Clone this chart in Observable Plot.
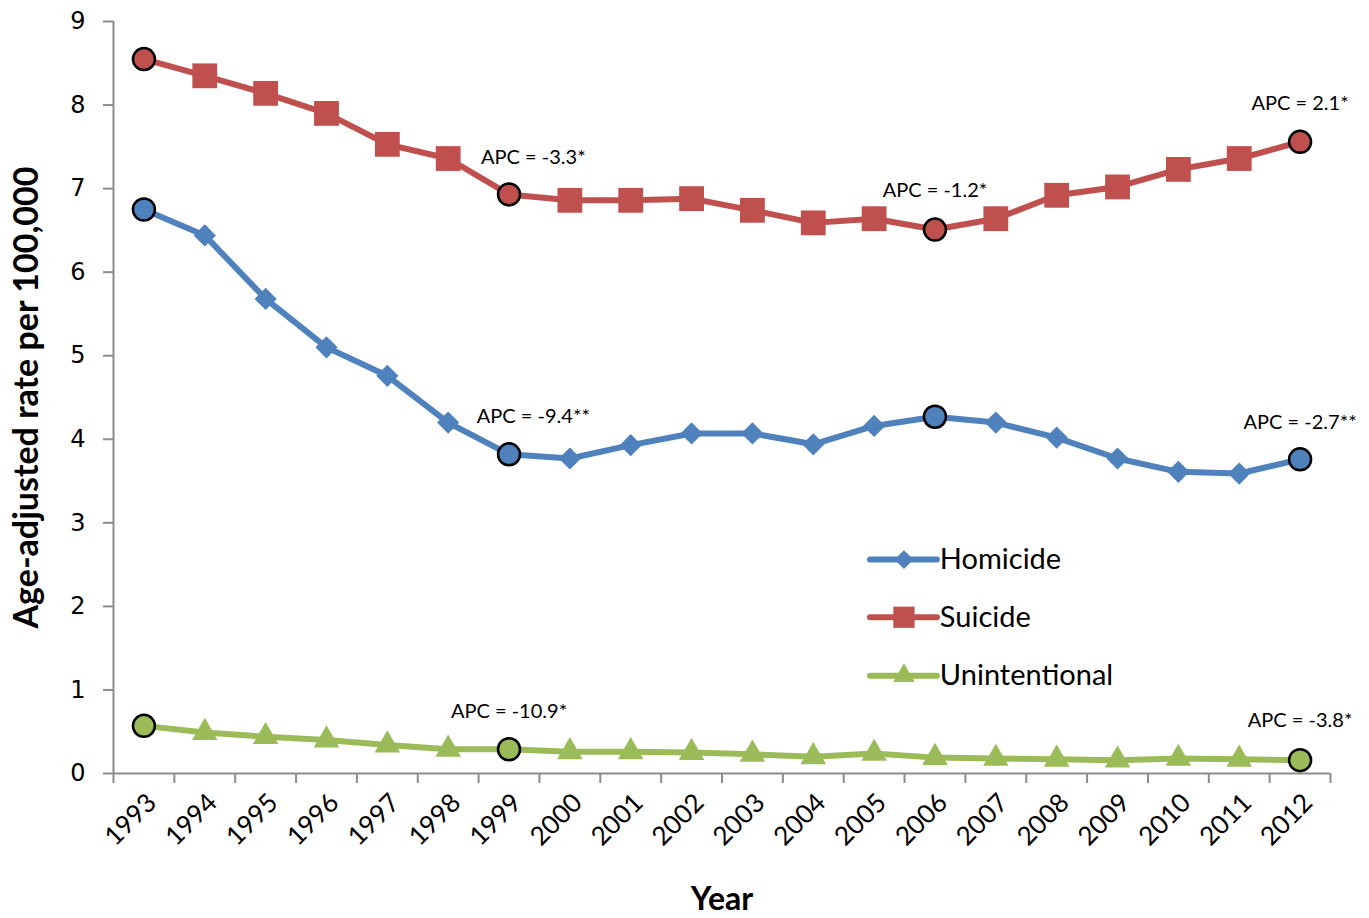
<!DOCTYPE html>
<html>
<head>
<meta charset="utf-8">
<script src="https://cdn.jsdelivr.net/npm/d3@7"></script>
<script src="https://cdn.jsdelivr.net/npm/@observablehq/plot@0.6"></script>
<style>
  html, body { margin: 0; padding: 0; background: #fff; }
</style>
</head>
<body>
<div id="chart"></div>
<script>
// ---- data ----
const years = [1993,1994,1995,1996,1997,1998,1999,2000,2001,2002,2003,2004,2005,2006,2007,2008,2009,2010,2011,2012];
const homicide = [6.75,6.44,5.68,5.10,4.76,4.20,3.82,3.77,3.93,4.07,4.07,3.94,4.16,4.27,4.20,4.02,3.77,3.61,3.59,3.76];
const suicide = [8.55,8.35,8.14,7.90,7.53,7.36,6.93,6.86,6.86,6.88,6.74,6.59,6.64,6.51,6.64,6.92,7.02,7.23,7.36,7.56];
const unintentional = [0.57,0.49,0.44,0.40,0.34,0.29,0.29,0.26,0.26,0.25,0.23,0.20,0.24,0.19,0.18,0.17,0.16,0.18,0.17,0.16];
const seriesNames = ["Homicide", "Suicide", "Unintentional"];
const joinpointYears = {
  Homicide: [1993, 1999, 2006, 2012],
  Suicide: [1993, 1999, 2006, 2012],
  Unintentional: [1993, 1999, 2012]
};
const apcLabels = ["APC = -3.3*", "APC = -1.2*", "APC = 2.1*", "APC = -9.4**", "APC = -2.7**", "APC = -10.9*", "APC = -3.8*"];
const apcX = [1999.4, 2006.0, 2012.0, 1999.4, 2012.0, 1999.0, 2012.0];
const apcY = [7.37, 6.98, 8.02, 4.27, 4.20, 0.74, 0.63];
const yTicks = [0,1,2,3,4,5,6,7,8,9];

// ---- styles ----
const colors = {Homicide: "#4F81BD", Suicide: "#C0504D", Unintentional: "#9BBB59"};
const symbols = {Homicide: "diamond2", Suicide: "square", Unintentional: "triangle"};
const markerR = {Homicide: 10, Suicide: 14, Unintentional: 9.5};
const legendR = {Homicide: 8.5, Suicide: 12, Unintentional: 8};

// ---- tables ----
const valuesBy = {Homicide: homicide, Suicide: suicide, Unintentional: unintentional};
const rows = seriesNames.flatMap(s => years.map((yr, i) => ({series: s, year: yr, value: valuesBy[s][i]})));
const isJoin = d => joinpointYears[d.series].includes(d.year);
const bounds = [...years.map(y => y - 0.5), years[years.length - 1] + 0.5];
const apc = apcLabels.map((t, i) => ({text: t, x: apcX[i], y: apcY[i]}));

// legend layout (frame-relative, expressed in scale units)
const legend = seriesNames.map((s, i) => ({series: s, y: [2.56, 1.87, 1.17][i]}));
const legX1 = 2004.94, legX2 = 2006.04, legXm = 2005.49, legXt = 2006.08;

const marks = [
  Plot.ruleY([0], {stroke: "#8c8c8c", strokeWidth: 2}),
  Plot.ruleX([bounds[0]], {stroke: "#8c8c8c", strokeWidth: 2}),
  Plot.axisY({ticks: yTicks, tickSize: 10, tickPadding: 18, stroke: "#8c8c8c", strokeWidth: 2, fill: "#000",
    fontSize: 24, fontFamily: "DejaVu Sans", label: null, tickFormat: d => String(d)}),
  Plot.axisX({ticks: bounds, tickSize: 10, stroke: "#8c8c8c", strokeWidth: 2, tickFormat: () => "", label: null}),
  Plot.axisX({ticks: years, tickSize: 0, tickPadding: 25, tickRotate: -45, fill: "#000", fontSize: 26,
    fontFamily: "Lato", dx: 8, label: null, tickFormat: d => String(d)}),
  ...seriesNames.map(s => Plot.lineY(rows.filter(d => d.series === s), {
    x: "year", y: "value", stroke: colors[s], strokeWidth: 6, strokeLinejoin: "round", strokeLinecap: "round"})),
  ...seriesNames.map(s => Plot.dot(rows.filter(d => d.series === s && !isJoin(d)), {
    x: "year", y: "value", symbol: () => symbols[s], r: markerR[s], fill: colors[s], stroke: "none"})),
  ...seriesNames.map(s => Plot.dot(rows.filter(d => d.series === s && isJoin(d)), {
    x: "year", y: "value", r: 11, fill: colors[s], stroke: "#000", strokeWidth: 2.5})),
  Plot.text(apc, {x: "x", y: "y", text: "text", fontSize: 20, fontFamily: "Lato", fill: "#000"}),
  // legend
  ...legend.map(l => Plot.ruleY([l], {y: "y", x1: legX1, x2: legX2, stroke: colors[l.series], strokeWidth: 6, strokeLinecap: "round"})),
  ...legend.map(l => Plot.dot([l], {x: legXm, y: "y", symbol: () => symbols[l.series], r: legendR[l.series], fill: colors[l.series]})),
  Plot.text(legend, {x: legXt, y: "y", text: "series", textAnchor: "start", fontSize: 29, fontFamily: "Lato", fill: "#000"}),
  // axis titles
  Plot.text(["Age-adjusted rate per 100,000"], {frameAnchor: "left", textAnchor: "middle", dx: -86, rotate: -90, fontSize: 34,
    fontWeight: "bold", fontFamily: "Lato", fill: "#000"}),
  Plot.text(["Year"], {frameAnchor: "bottom", textAnchor: "middle", dy: 136, fontSize: 32, fontWeight: "bold", fontFamily: "Lato", fill: "#000"})
];

const chart = Plot.plot({
  width: 1369,
  height: 918,
  marginLeft: 113,
  marginRight: 39,
  marginTop: 21,
  marginBottom: 145,
  x: {type: "linear", domain: [bounds[0], bounds[bounds.length - 1]], axis: null},
  y: {domain: [0, 9], axis: null},
  style: {fontFamily: "Lato", background: "#fff", overflow: "visible"},
  marks
});
document.getElementById("chart").appendChild(chart);
</script>
</body>
</html>
